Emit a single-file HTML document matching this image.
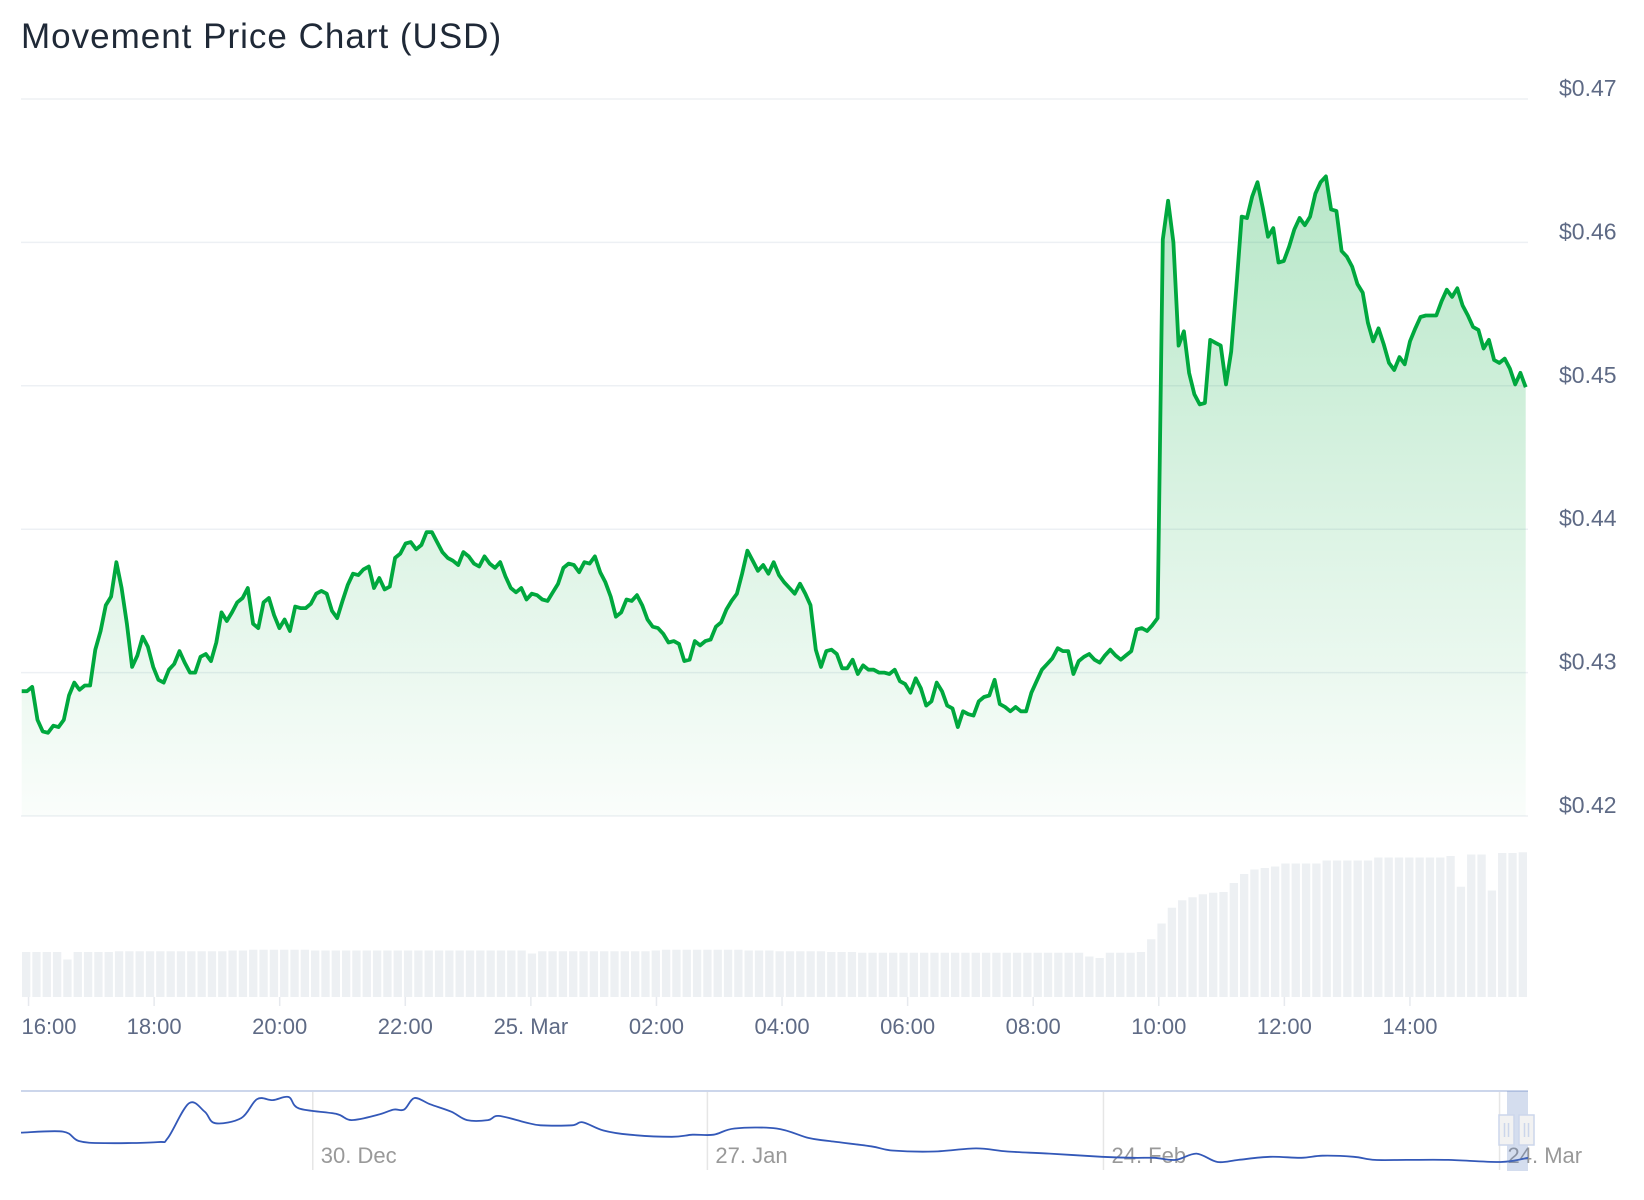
<!DOCTYPE html>
<html><head><meta charset="utf-8"><style>
html,body{margin:0;padding:0;background:#fff;width:1644px;height:1200px;overflow:hidden}
svg text{font-family:"Liberation Sans",sans-serif}
</style></head><body>
<svg id="chart" width="1644" height="1200" viewBox="0 0 1644 1200" xmlns="http://www.w3.org/2000/svg">
<defs>
<linearGradient id="fillGrad" x1="0" y1="0" x2="0" y2="1">
<stop offset="0" stop-color="#00aa3c" stop-opacity="0.28"/>
<stop offset="1" stop-color="#00aa3c" stop-opacity="0.02"/>
</linearGradient>
</defs>
<text x="21" y="48" font-size="35" letter-spacing="1" fill="#1f2937">Movement Price Chart (USD)</text>
<g id="grid"></g>
<g id="volume"></g>
<g id="price"></g>
<g id="xaxis"></g>
<g id="yaxis"></g>
<g id="navigator"></g>
</svg>
<script>
const priceValues=[0.4287,0.4287,0.4290,0.4267,0.4259,0.4258,0.4263,0.4262,0.4267,0.4284,0.4293,0.4288,0.4291,0.4291,0.4316,0.4329,0.4347,0.4353,0.4377,0.4359,0.4334,0.4304,0.4312,0.4325,0.4318,0.4304,0.4295,0.4293,0.4302,0.4306,0.4315,0.4307,0.4300,0.4300,0.4311,0.4313,0.4308,0.4321,0.4342,0.4336,0.4342,0.4349,0.4352,0.4359,0.4334,0.4331,0.4349,0.4352,0.4340,0.4331,0.4337,0.4329,0.4346,0.4345,0.4345,0.4348,0.4355,0.4357,0.4355,0.4343,0.4338,0.4350,0.4361,0.4369,0.4368,0.4372,0.4374,0.4359,0.4366,0.4358,0.4360,0.4380,0.4383,0.4390,0.4391,
0.4386,0.4389,0.4398,0.4398,0.4391,0.4384,0.4380,0.4378,0.4375,0.4384,0.4381,0.4376,0.4374,0.4381,0.4376,0.4373,0.4377,0.4367,0.4359,0.4356,0.4359,0.4351,0.4355,0.4354,0.4351,0.4350,0.4356,0.4362,0.4373,0.4376,0.4375,0.4370,0.4377,0.4376,0.4381,0.4370,0.4363,0.4353,0.4339,0.4342,0.4351,0.4350,0.4354,0.4347,0.4337,0.4332,0.4331,0.4327,0.4321,0.4322,0.4320,0.4308,0.4309,0.4322,0.4319,0.4322,0.4323,0.4332,0.4335,0.4344,0.4350,0.4355,0.4369,0.4385,0.4378,0.4371,0.4375,0.4369,0.4377,0.4368,0.4363,0.4359,0.4355,0.4362,
0.4355,0.4347,0.4316,0.4304,0.4315,0.4316,0.4313,0.4303,0.4303,0.4309,0.4299,0.4305,0.4302,0.4302,0.4300,0.4300,0.4299,0.4302,0.4294,0.4292,0.4286,0.4296,0.4289,0.4277,0.4280,0.4293,0.4287,0.4277,0.4275,0.4262,0.4273,0.4271,0.4270,0.4280,0.4283,0.4284,0.4295,0.4278,0.4276,0.4273,0.4276,0.4273,0.4273,0.4286,0.4294,0.4302,0.4306,0.4310,0.4317,0.4315,0.4315,0.4299,0.4308,0.4311,0.4313,0.4309,0.4307,0.4312,0.4316,0.4312,0.4309,0.4312,0.4315,0.4330,0.4331,0.4329,0.4333,0.4338,
0.4602,0.4629,0.4600,0.4528,0.4538,0.4509,0.4494,0.4487,0.4488,0.4532,0.4530,0.4528,0.4501,0.4524,0.4570,0.4618,0.4617,0.4632,0.4642,0.4624,0.4604,0.4610,0.4586,0.4587,0.4597,0.4609,0.4617,0.4612,0.4618,0.4634,0.4642,0.4646,0.4623,0.4622,0.4594,0.4590,0.4583,0.4571,0.4565,0.4544,0.4531,0.4540,0.4529,0.4516,0.4511,0.4520,0.4515,0.4531,0.4540,0.4548,0.4549,0.4549,0.4549,0.4559,0.4567,0.4562,0.4568,0.4556,0.4549,0.4541,0.4539,0.4526,0.4532,0.4518,0.4516,0.4519,0.4512,0.4501,0.4509,0.4499];
const volumeValues=[3.0,3.0,3.0,3.0,2.5,3.0,3.0,3.0,3.0,3.05,3.05,3.05,3.05,3.05,3.05,3.05,3.05,3.05,3.05,3.05,3.1,3.1,3.15,3.15,3.15,3.15,3.15,3.15,3.1,3.1,3.1,3.1,3.1,3.1,3.1,3.1,3.1,3.1,3.1,3.1,3.1,3.1,3.1,3.1,3.1,3.1,3.1,3.1,3.1,2.9,3.05,3.05,3.05,3.05,3.05,3.05,3.05,3.05,3.05,3.05,3.05,3.1,3.15,3.15,3.15,3.15,3.15,3.15,3.15,3.15,3.1,3.1,3.1,3.05,3.05,3.05,3.05,3.05,3.0,3.0,3.0,2.95,2.95,2.95,2.95,2.95,2.95,2.95,2.95,2.95,2.95,2.95,2.95,2.95,2.95,2.95,2.95,2.95,2.95,2.95,2.95,2.95,2.95,2.7,2.6,2.95,2.95,2.95,3.0,3.85,4.9,5.95,6.45,6.65,6.85,6.95,7.0,7.6,8.2,8.5,8.6,8.7,8.9,8.9,8.9,8.9,9.1,9.1,9.1,9.1,9.1,9.3,9.3,9.3,9.3,9.3,9.3,9.3,9.4,7.35,9.5,9.5,7.1,9.6,9.6,9.65];
const yTicks=[0.42,0.43,0.44,0.45,0.46,0.47];
const yTickLabels=["$0.42","$0.43","$0.44","$0.45","$0.46","$0.47"];
const xTickHours=[0.12,2.12,4.12,6.12,8.12,10.12,12.12,14.12,16.12,18.12,20.12,22.12];
const xTickLabels=["16:00","18:00","20:00","22:00","25. Mar","02:00","04:00","06:00","08:00","10:00","12:00","14:00"];
const navDays=[0,2.98,4.1,5.96,9.68,10.42,11.91,13.03,13.78,15.64,16.75,17.87,18.99,19.73,22.34,23.45,25.32,26.43,27.18,27.92,29.04,30.53,31.65,33.13,33.88,35.74,36.86,39.09,39.84,41.33,43.19,46.17,47.65,49.14,50.63,53.61,55.85,57.33,60.31,61.8,64.78,67.76,69.99,72.97,76.69,78.93,80.42,81.91,83.4,84.89,86.37,88.61,90.84,92.33,94.56,96.05,98.29,101.27,104.99,106.92];
const navValues=[0.70,0.71,0.62,0.60,0.61,0.65,0.98,0.90,0.79,0.84,1.02,1.01,1.04,0.93,0.88,0.82,0.87,0.92,0.92,1.03,0.97,0.90,0.82,0.82,0.86,0.80,0.77,0.77,0.80,0.72,0.68,0.66,0.68,0.68,0.74,0.74,0.65,0.62,0.57,0.53,0.52,0.55,0.52,0.50,0.47,0.46,0.46,0.44,0.50,0.42,0.44,0.47,0.46,0.48,0.47,0.44,0.44,0.44,0.42,0.46];
const navTickDays=[20.7,48.7,76.8,104.9];
const navTickLabels=["30. Dec","27. Jan","24. Feb","24. Mar"];

const NS="http://www.w3.org/2000/svg";
const L=21,R=1528;
function mk(tag,attrs,parent){const e=document.createElementNS(NS,tag);for(const k in attrs)e.setAttribute(k,attrs[k]);parent.appendChild(e);return e;}
const yPrice=v=>99+(0.47-v)/0.05*717;
const xHour=h=>L+h/24*(R-L);
const xIndex=i=>L+0.7+i*(R-L-3)/(priceValues.length-1);
const volBase=997,volScale=15;
const xVol=i=>L+i*(R-L)/volumeValues.length;
const xNav=d=>L+d/106.92*(R-L);
const yNav=v=>1162-(v-0.42)/0.62*65;

const gridG=document.getElementById('grid'),yaxisG=document.getElementById('yaxis');
yTicks.forEach((t,i)=>{
 const g=mk('line',{x1:L,x2:R,y1:yPrice(t),y2:yPrice(t),stroke:'#edf0f4','stroke-width':1.5},gridG);
 
 
 const tx=mk('text',{x:1559,y:yPrice(t)-3,'font-size':23,fill:'#5e6a85'},yaxisG);
 tx.textContent=yTickLabels[i];
 
 
});
const volG=document.getElementById('volume');
volumeValues.forEach((v,i)=>{
 const h=v*volScale;const w=(R-L)/volumeValues.length;
 const b=mk('rect',{x:xVol(i)+1,y:volBase-h,width:w-2,height:h,fill:'#edf0f3'},volG);
 
 
});
const pg=document.getElementById('price');
let pd='';priceValues.forEach((v,i)=>{pd+=(i?'L':'M')+xIndex(i).toFixed(1)+' '+yPrice(v).toFixed(1);});
const lastI=priceValues.length-1;
const areaPath=mk('path',{d:pd+'L'+xIndex(lastI).toFixed(1)+' 816L'+xIndex(0).toFixed(1)+' 816Z',fill:'url(#fillGrad)'},pg);


const linePath=mk('path',{d:pd,fill:'none',stroke:'#00a83e','stroke-width':3.8,'stroke-linejoin':'round'},pg);


const xa=document.getElementById('xaxis');
xTickHours.forEach((h,i)=>{
 const x=xHour(h);
 const t=mk('line',{x1:x,x2:x,y1:997,y2:1006,stroke:'#e6e9ee','stroke-width':1.5},xa);
 
 
 const tx=mk('text',{x:i===0?Math.max(x,49):x,y:1034,'font-size':22,fill:'#5e6a85','text-anchor':'middle'},xa);
 tx.textContent=xTickLabels[i];
 
 
});
const navG=document.getElementById('navigator');
navTickDays.forEach((dd,i)=>{
 const x=xNav(dd);
 const l=mk('line',{x1:x,x2:x,y1:1091,y2:1170,stroke:'#e6e6e6','stroke-width':1.5},navG);
 
 
 const tx=mk('text',{x:x+8,y:1163,'font-size':22,fill:'#999'},navG);
 tx.textContent=navTickLabels[i];
 
 
});
const np=navDays.map((dd,i)=>[xNav(dd),yNav(navValues[i])]);
let nd='M'+np[0][0].toFixed(1)+' '+np[0][1].toFixed(1);
for(let i=0;i<np.length-1;i++){
 const p0=np[Math.max(0,i-1)],p1=np[i],p2=np[i+1],p3=np[Math.min(np.length-1,i+2)];
 const c1x=p1[0]+(p2[0]-p0[0])/6,c1y=p1[1]+(p2[1]-p0[1])/6;
 const c2x=p2[0]-(p3[0]-p1[0])/6,c2y=p2[1]-(p3[1]-p1[1])/6;
 nd+='C'+c1x.toFixed(1)+' '+c1y.toFixed(1)+' '+c2x.toFixed(1)+' '+c2y.toFixed(1)+' '+p2[0].toFixed(1)+' '+p2[1].toFixed(1);
}
const navLine=mk('path',{d:nd,fill:'none',stroke:'#3358b8','stroke-width':1.8,'stroke-linejoin':'round'},navG);


const navTop=mk('line',{x1:L,x2:R,y1:1091,y2:1091,stroke:'#ccd6eb','stroke-width':2},navG);


const navSel=mk('rect',{x:1507,y:1091,width:21,height:80,fill:'rgba(102,133,194,0.28)'},navG);


[1507,1527].forEach(hx=>{
 const hg=mk('g',{},navG);
 
 
 mk('rect',{x:hx-8,y:1115,width:15,height:30,fill:'#f2f2f2',stroke:'#ccd6eb','stroke-width':1.5},hg);
 mk('line',{x1:hx-2.5,x2:hx-2.5,y1:1123,y2:1137,stroke:'#ccd6eb','stroke-width':1.5},hg);
 mk('line',{x1:hx+1.5,x2:hx+1.5,y1:1123,y2:1137,stroke:'#ccd6eb','stroke-width':1.5},hg);
});
</script>
</body></html>
